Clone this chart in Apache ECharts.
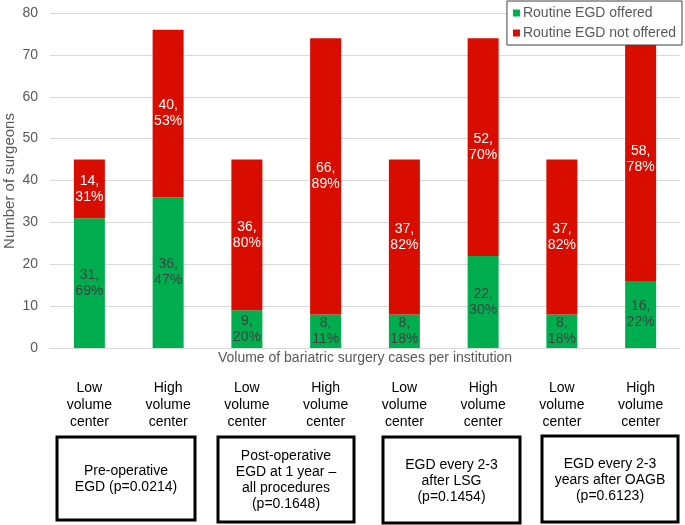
<!DOCTYPE html>
<html>
<head>
<meta charset="utf-8">
<script src="https://cdn.jsdelivr.net/npm/echarts@6/dist/echarts.min.js"></script>
<style>html,body{margin:0;padding:0;background:#fff;}#c{width:685px;height:525px;}</style>
</head>
<body>
<div id="c"></div>
<script>
const categories = ['Low\nvolume\ncenter','High\nvolume\ncenter','Low\nvolume\ncenter','High\nvolume\ncenter','Low\nvolume\ncenter','High\nvolume\ncenter','Low\nvolume\ncenter','High\nvolume\ncenter'];
const offered = [31, 36, 9, 8, 8, 22, 8, 16];
const notOffered = [14, 40, 36, 66, 37, 52, 37, 58];
const pctOffered = [69, 47, 20, 11, 18, 30, 18, 22];
const pctNotOffered = [31, 53, 80, 89, 82, 70, 82, 78];
const seriesNames = ['Routine EGD offered', 'Routine EGD not offered'];
const boxTexts = ['Pre-operative\nEGD (p=0.0214)', 'Post-operative\nEGD at 1 year –\nall procedures\n(p=0.1648)', 'EGD every 2-3\nafter LSG\n(p=0.1454)', 'EGD every 2-3\nyears after OAGB\n(p=0.6123)'];
const xAxisTitle = 'Volume of bariatric surgery cases per institution';
const yAxisTitle = 'Number of surgeons';
const yTicks = {min: 0, max: 80, interval: 10};

const FONT = '"Liberation Sans", Arial, sans-serif';
const boxes = [
  {x: 57, y: 437, w: 138, h: 83},
  {x: 218, y: 437, w: 136, h: 85},
  {x: 383, y: 437, w: 137, h: 86},
  {x: 542, y: 436, w: 136, h: 86}
];
const graphics = [];
graphics.push({type: 'text', x: 365, y: 358, z: 5,
  style: {text: xAxisTitle, fill: '#595959', font: '14px ' + FONT, align: 'center', verticalAlign: 'middle'}});
graphics.push({type: 'text', x: 10, y: 181, rotation: Math.PI / 2, z: 5,
  style: {text: yAxisTitle, fill: '#595959', font: '15px ' + FONT, align: 'center', verticalAlign: 'middle'}});
boxes.forEach((b, i) => {
  graphics.push({type: 'rect', shape: {x: b.x, y: b.y, width: b.w, height: b.h},
    style: {fill: '#fff', stroke: '#000', lineWidth: 3}, z: 10});
  graphics.push({type: 'text', x: b.x + b.w / 2, y: b.y + b.h / 2 + 1, z: 11,
    style: {text: boxTexts[i], fill: '#000', font: '14px ' + FONT, align: 'center', verticalAlign: 'middle', lineHeight: 16}});
});

const chart = echarts.init(document.getElementById('c'), null, {renderer: 'canvas'});
chart.setOption({
  animation: false,
  textStyle: {fontFamily: FONT},
  grid: {left: 50, right: 5, top: 13, bottom: 177, containLabel: false, outerBoundsMode: 'none'},
  legend: {
    orient: 'vertical', right: 3, top: 1, z: 20,
    backgroundColor: '#fff', borderColor: '#404040', borderWidth: 1,
    padding: [5, 6, 5, 6], itemGap: 6, itemWidth: 7, itemHeight: 7, icon: 'rect',
    textStyle: {color: '#595959', fontSize: 14, fontFamily: FONT, padding: [0, 0, 0, -2]},
    data: seriesNames
  },
  xAxis: {
    type: 'category', data: categories,
    axisLine: {lineStyle: {color: '#d9d9d9'}}, axisTick: {show: false},
    axisLabel: {color: '#000', fontSize: 14, lineHeight: 17, margin: 32, interval: 0, fontFamily: FONT}
  },
  yAxis: {
    type: 'value', min: yTicks.min, max: yTicks.max, interval: yTicks.interval,
    axisLabel: {color: '#595959', fontSize: 14, margin: 12, fontFamily: FONT},
    splitLine: {lineStyle: {color: '#d9d9d9'}}
  },
  series: [
    {name: seriesNames[0], type: 'bar', stack: 'a', barWidth: 31, data: offered,
     itemStyle: {color: '#00ad4f'},
     label: {show: true, position: 'inside', color: '#404040', fontSize: 14, lineHeight: 16, fontFamily: FONT,
       formatter: p => p.value + ',\n' + pctOffered[p.dataIndex] + '%'}},
    {name: seriesNames[1], type: 'bar', stack: 'a', barWidth: 31, data: notOffered,
     itemStyle: {color: '#d90c00'},
     label: {show: true, position: 'inside', color: '#fff', fontSize: 14, lineHeight: 16, fontFamily: FONT,
       formatter: p => p.value + ',\n' + pctNotOffered[p.dataIndex] + '%'}}
  ],
  graphic: graphics
});
</script>
</body>
</html>
